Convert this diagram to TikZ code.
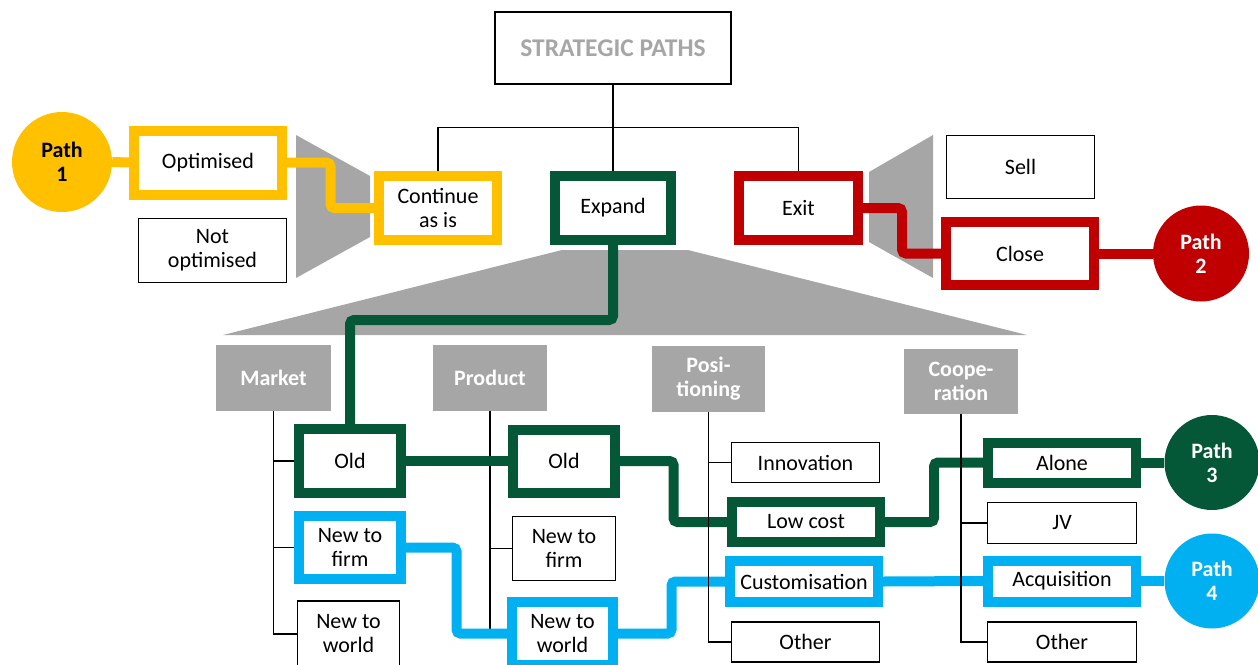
\documentclass[tikz,border=0pt]{standalone}
\usepackage{fontspec}
\setmainfont{Carlito}
\usepackage{tikz}
\usetikzlibrary{calc, backgrounds}
\definecolor{pathyellow}{RGB}{255,192,0}
\definecolor{pathgreen}{RGB}{4,88,56}
\definecolor{pathred}{RGB}{192,0,0}
\definecolor{pathblue}{RGB}{0,176,240}
\definecolor{headgray}{RGB}{166,166,166}

\begin{document}
\begin{tikzpicture}[
  x=1pt, y=-1pt,
  optbox/.style={draw=black, line width=1.3pt, fill=white, inner sep=0pt,
                 align=center, font=\fontsize{22}{24}\selectfont},
  routebox/.style={optbox, line width=10pt},
  headbox/.style={fill=headgray, text=white, inner sep=0pt, align=center,
                  font=\fontsize{22}{24}\selectfont\bfseries},
  pathdot/.style={circle, inner sep=0pt, align=center,
                  font=\fontsize{22}{24}\selectfont\bfseries},
  tree/.style={draw=black, line width=1.3pt},
  route/.style={line width=10pt, rounded corners=4pt},
  elbow/.style={to path={-| ($(\tikztostart)!0.5!(\tikztotarget)$) |- (\tikztotarget)}},
  funnel/.style={fill=headgray},
]
\useasboundingbox (0,0) rectangle (1258,664);

% =================================================================
% TOP: strategic paths and the three options
% =================================================================
\node[optbox, minimum width=236pt, minimum height=72pt, text=headgray,
      font=\fontsize{25.5}{27}\selectfont\bfseries] (title) at (613,48) {STRATEGIC PATHS};

\node[routebox, draw=pathyellow, minimum width=118pt, minimum height=64pt] (cont) at (438,208) {Continue\\as is};
\node[routebox, draw=pathgreen, minimum width=116pt, minimum height=64pt] (expand) at (613,208) {Expand};
\node[routebox, draw=pathred, minimum width=119pt, minimum height=64pt] (exit) at (798.5,208) {Exit};

% left: continue as is
\node[routebox, draw=pathyellow, minimum width=148pt, minimum height=64pt] (opt) at (208,162.5) {Optimised};
\node[optbox, minimum width=148pt, minimum height=64pt] (notopt) at (212.5,250.5) {Not\\optimised};
\node[pathdot, fill=pathyellow, text=black, minimum size=100pt] (path1) at (62,162) {Path\\1};

% right: exit
\node[optbox, minimum width=148pt, minimum height=63pt] (sell) at (1020.5,167) {Sell};
\node[routebox, draw=pathred, minimum width=148pt, minimum height=63pt] (close) at (1020,253.5) {Close};
\node[pathdot, fill=pathred, text=white, minimum size=96pt] (path2) at (1201,253.5) {Path\\2};

% =================================================================
% BOTTOM: expand, four dimensions
% =================================================================
\node[headbox, minimum width=115pt, minimum height=66pt] (market) at (273.5,378) {Market};
\node[headbox, minimum width=114pt, minimum height=66pt] (product) at (490,378) {Product};
\node[headbox, minimum width=113pt, minimum height=66pt] (posit) at (708.5,379) {Posi-\\tioning};
\node[headbox, minimum width=114pt, minimum height=65pt] (coop) at (961,381.5) {Coope-\\ration};

% market
\node[routebox, draw=pathgreen, minimum width=102pt, minimum height=64pt] (mold) at (350,461) {Old};
\node[routebox, draw=pathblue, minimum width=102pt, minimum height=63pt] (mfirm) at (350,547.5) {New to\\firm};
\node[optbox, minimum width=102pt, minimum height=66pt] (mworld) at (348.5,634) {New to\\world};

% product
\node[routebox, draw=pathgreen, minimum width=102pt, minimum height=63pt] (pold) at (564,461) {Old};
\node[optbox, minimum width=103pt, minimum height=64pt] (pfirm) at (564,548.5) {New to\\firm};
\node[routebox, draw=pathblue, minimum width=101pt, minimum height=63pt] (pworld) at (562.5,633.5) {New to\\world};

% positioning
\node[optbox, minimum width=148pt, minimum height=40pt] (innov) at (805.5,462.5) {Innovation};
\node[routebox, draw=pathgreen, minimum width=148pt, minimum height=40pt] (lowcost) at (806,522) {Low cost};
\node[routebox, draw=pathblue, minimum width=148pt, minimum height=41pt] (custom) at (804,581.5) {Customisation};
\node[optbox, minimum width=148pt, minimum height=40pt] (posother) at (805.5,642) {Other};

% cooperation
\node[routebox, draw=pathgreen, minimum width=148pt, minimum height=40pt] (alone) at (1062,462.5) {Alone};
\node[optbox, minimum width=149pt, minimum height=41pt] (jv) at (1062,523) {JV};
\node[routebox, draw=pathblue, minimum width=148pt, minimum height=41pt] (acq) at (1062,581) {Acquisition};
\node[optbox, minimum width=149pt, minimum height=40pt] (coopother) at (1062,642) {Other};

\node[pathdot, fill=pathgreen, text=white, minimum size=95pt] (path3) at (1212,462.5) {Path\\3};
\node[pathdot, fill=pathblue, text=white, minimum size=95pt] (path4) at (1212,581) {Path\\4};

% =================================================================
% BEHIND THE BOXES: funnels, tree lines, routes
% =================================================================
\begin{scope}[on background layer]
  \fill[funnel] (296,135) -- (370,176) -- (370,237) -- (296,278) -- cycle;
  \fill[funnel] (869,172) -- (933,135) -- (933,278) -- (869,242) -- cycle;
  \fill[funnel] (562,250) -- (688,250) -- (1027,335) -- (223,335) -- cycle;

  \draw[tree] (title) -- (expand);
  \draw[tree] (cont.north) |- ($(title.south)!0.5!(expand.north)$) -| (exit.north);

  \draw[tree] (market.south) |- (mold.west);
  \draw[tree] (market.south) |- (mfirm.west);
  \draw[tree] (market.south) |- (mworld.west);
  \draw[tree] (product.south) |- (pfirm.west);
  \draw[tree] (product.south) |- (pworld.west);

  % path 1
  \draw[route, pathyellow] (path1.east) -- (opt.west);
  \draw[route, pathyellow] (opt.east) to[elbow] (cont.west);
  % path 2
  \draw[route, pathred] (exit.east) to[elbow] (close.west);
  \draw[route, pathred] (close.east) -- (path2.west);
  % path 3
  \draw[route, pathgreen] (expand.south) -- ++(0,75) -| (mold.north);
  \draw[route, pathgreen] (mold.east) -- (pold.west);
  \draw[route, pathgreen] (pold.east) to[elbow] (lowcost.west);
  \draw[route, pathgreen] (lowcost.east) to[elbow] (alone.west);
  \draw[route, pathgreen] (alone.east) -- (path3.west);
  % path 4
  \draw[route, pathblue] (mfirm.east) to[elbow] (pworld.west);
  \draw[route, pathblue] (pworld.east) to[elbow] (custom.west);
  \draw[route, pathblue] (custom.east) -- (acq.west);
  \draw[route, pathblue] (acq.east) -- (path4.west);

  \draw[tree] (posit.south) |- (innov.west);
  \draw[tree] (posit.south) |- (posother.west);
  \draw[tree] (coop.south) |- (jv.west);
  \draw[tree] (coop.south) |- (coopother.west);
\end{scope}

\end{tikzpicture}
\end{document}
